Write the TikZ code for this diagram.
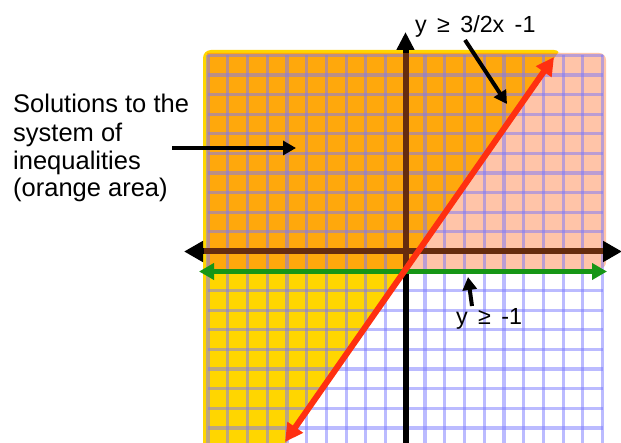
\documentclass[tikz,border=0pt]{standalone}
\usepackage{fontspec}
\setmainfont{Liberation Sans}
\usetikzlibrary{arrows.meta}

\definecolor{cyellow}{RGB}{255,214,0}
\definecolor{corange}{RGB}{255,168,12}
\definecolor{cpink}{RGB}{255,196,168}
\definecolor{cgrid}{RGB}{120,120,255}
\definecolor{cred}{RGB}{255,48,16}
\definecolor{cgreen}{RGB}{22,150,22}
\definecolor{cbrown}{RGB}{102,44,14}

\begin{document}
\begin{tikzpicture}[x=1pt,y=-1pt,
  gridline/.style={draw=cgrid, draw opacity=0.5, line width=3.2pt},
  pointer/.style={draw=black, line width=4pt, -{Triangle[length=13pt,width=14pt]}},
  bigtext/.style={inner sep=0pt, anchor=base west, font=\fontsize{25.5}{28}\selectfont},
  eqtext/.style={inner sep=0pt, anchor=base west, font=\fontsize{23.3}{26}\selectfont},
  axisline/.style={line width=6pt},
]
\useasboundingbox (0,0) rectangle (621,443);
\fill[white] (0,0) rectangle (621,443);

% shaded regions
\fill[cyellow, rounded corners=8pt] (203,50) -- (562,50) -- (280,452) -- (203,452) -- cycle;
\fill[corange] (207,53) -- (560,53) -- (407,269) -- (207,269) -- cycle;
\fill[cpink] (558,53) [rounded corners=7pt] -- (606,53) -- (606,269) [sharp corners] -- (405,269) -- cycle;

% grid
\foreach \i in {0,...,20} {
  \draw[gridline] ({208+19.73*\i},55.5) -- ({208+19.73*\i},447.5);
  \draw[gridline] (208,{55.5+19.6*\i}) -- (602.6,{55.5+19.6*\i});
}

% axes
\coordinate (xl) at (184,251.5);
\coordinate (xr) at (622,251.5);
\coordinate (yb) at (405.5,460);
\coordinate (yt) at (405.5,32);
\draw[axisline, {Triangle[length=19pt,width=20pt]}-{Triangle[length=19pt,width=20pt]}] (xl) -- (xr);
\draw[axisline, cbrown] (204,251.5) -- (603,251.5);
\draw[axisline, -{Triangle[length=18pt,width=17pt]}] (yb) -- (yt);
\draw[axisline, cbrown] (405.5,53) -- (405.5,268);

% boundary lines
\coordinate (gl) at (199,271.5);
\coordinate (gr) at (607,271.5);
\draw[cgreen, line width=5pt, {Triangle[length=15pt,width=16pt]}-{Triangle[length=15pt,width=16pt]}] (gl) -- (gr);
\coordinate (rb) at (285,442);
\coordinate (rt) at (554,57);
\draw[cred, line width=6pt, {Triangle[length=18pt,width=18pt]}-{Triangle[length=18pt,width=18pt]}] (rb) -- (rt);

% labels
\node[bigtext] (l1) at (13,113) {Solutions to the};
\node[bigtext] (l2) at (13,141.5) {system of};
\node[bigtext] (l3) at (13,169.5) {inequalities};
\node[bigtext] (l4) at (13,197) {(orange area)};
\coordinate (p1s) at (172,148);
\coordinate (p1e) at (296,148);
\draw[pointer] (p1s) -- (p1e);

\node[eqtext] (eq1) at (415,33) {y \,≥\, 3/2x \,-1};
\coordinate (p2s) at (465,40);
\coordinate (p2e) at (507,104);
\draw[pointer] (p2s) -- (p2e);

\node[eqtext] (eq2) at (456,325) {y \,≥\, -1};
\coordinate (p3s) at (472,306);
\coordinate (p3e) at (468,277);
\draw[pointer] (p3s) -- (p3e);
\end{tikzpicture}
\end{document}
